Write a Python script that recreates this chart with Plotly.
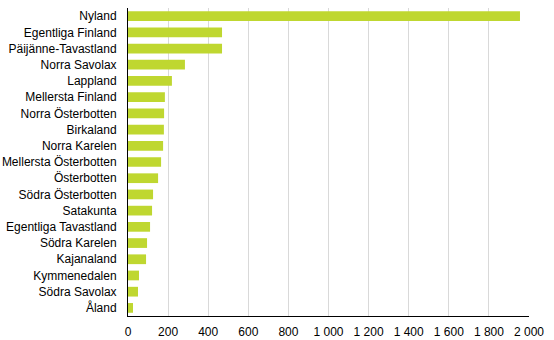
import plotly.graph_objects as go

regions = ["Nyland", "Egentliga Finland", "Päijänne-Tavastland", "Norra Savolax", "Lappland",
           "Mellersta Finland", "Norra Österbotten", "Birkaland", "Norra Karelen",
           "Mellersta Österbotten", "Österbotten", "Södra Österbotten", "Satakunta",
           "Egentliga Tavastland", "Södra Karelen", "Kajanaland", "Kymmenedalen",
           "Södra Savolax", "Åland"]
values = [1955, 469, 469, 284, 219, 184, 180, 179, 175, 165, 150, 125, 120, 110, 95, 90, 55, 50, 25]
x_ticks = [0, 200, 400, 600, 800, 1000, 1200, 1400, 1600, 1800, 2000]

fig = go.Figure(go.Bar(
    y=regions, x=values, orientation="h",
    marker=dict(color="#bfd730", line=dict(width=0)),
))
fig.update_layout(
    width=554, height=340,
    margin=dict(l=128, r=25, t=8, b=24),
    paper_bgcolor="white", plot_bgcolor="white",
    bargap=0.4,
    separators=", ",
    font=dict(family="Liberation Sans, Arial, sans-serif", size=12, color="#000000"),
    showlegend=False,
)
fig.update_xaxes(
    range=[0, 2000], tickvals=x_ticks, tickformat=",d",
    showgrid=True, gridcolor="#d9d9d9", gridwidth=1,
    showline=True, linecolor="#000000", linewidth=1,
    ticks="", zeroline=False, automargin=False, ticklabelstandoff=5,
)
fig.update_yaxes(
    categoryorder="array", categoryarray=regions, autorange="reversed",
    showline=True, linecolor="#000000", linewidth=1,
    ticks="", ticklabelstandoff=8, showgrid=False, automargin=False,
)
fig.write_html("out.html")
